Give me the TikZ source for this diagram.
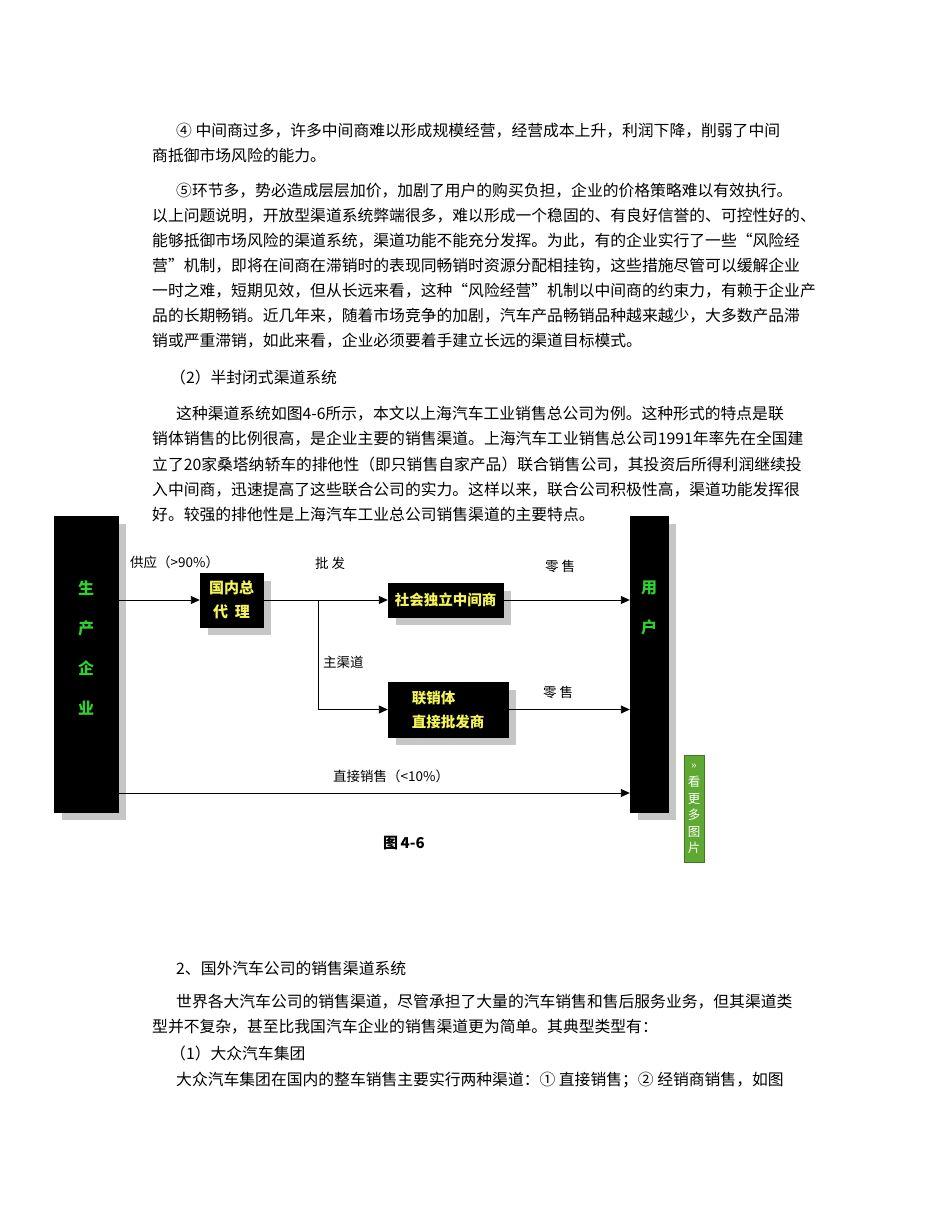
\documentclass[tikz,border=0pt]{standalone}
\usepackage{fontspec}
\setmainfont{Liberation Serif}
\newfontfamily\cjk{Noto Sans CJK SC}
\usetikzlibrary{arrows.meta}
\definecolor{yel}{HTML}{F4F45A}
\definecolor{grn}{HTML}{2FD02F}
\definecolor{badge}{HTML}{5FA832}
\begin{document}
\begin{tikzpicture}[x=1pt,y=-1pt,
 txt/.style={anchor=west,inner sep=0pt,font=\cjk\fontsize{15.8}{17}\selectfont},
 lab/.style={inner sep=0pt,font=\cjk\fontsize{13.5}{15}\selectfont},
 blk/.style={fill=black,draw=black},
 shd/.style={fill=gray!45},
 ar/.style={-{Triangle[length=9pt,width=8pt]},line width=0.9pt}]
\useasboundingbox (0,0) rectangle (950,1230);
\node[txt] (l1) at (176,131) {④ 中间商过多，许多中间商难以形成规模经营，经营成本上升，利润下降，削弱了中间};
\node[txt] (l2) at (152,155) {商抵御市场风险的能力。};
\node[txt] (l3) at (176,191) {⑤环节多，势必造成层层加价，加剧了用户的购买负担，企业的价格策略难以有效执行。};
\node[txt] (l4) at (152,216) {以上问题说明，开放型渠道系统弊端很多，难以形成一个稳固的、有良好信誉的、可控性好的、};
\node[txt] (l5) at (152,241) {能够抵御市场风险的渠道系统，渠道功能不能充分发挥。为此，有的企业实行了一些“风险经};
\node[txt] (l6) at (152,266) {营”机制，即将在间商在滞销时的表现同畅销时资源分配相挂钩，这些措施尽管可以缓解企业};
\node[txt] (l7) at (152,291) {一时之难，短期见效，但从长远来看，这种“风险经营”机制以中间商的约束力，有赖于企业产};
\node[txt] (l8) at (152,316) {品的长期畅销。近几年来，随着市场竞争的加剧，汽车产品畅销品种越来越少，大多数产品滞};
\node[txt] (l9) at (152,341) {销或严重滞销，如此来看，企业必须要着手建立长远的渠道目标模式。};
\node[txt] (l10) at (170,377) {（2）半封闭式渠道系统};
\node[txt] (l11) at (176,414) {这种渠道系统如图4-6所示，本文以上海汽车工业销售总公司为例。这种形式的特点是联};
\node[txt] (l12) at (152,439) {销体销售的比例很高，是企业主要的销售渠道。上海汽车工业销售总公司1991年率先在全国建};
\node[txt] (l13) at (152,465) {立了20家桑塔纳轿车的排他性（即只销售自家产品）联合销售公司，其投资后所得利润继续投};
\node[txt] (l14) at (152,490) {入中间商，迅速提高了这些联合公司的实力。这样以来，联合公司积极性高，渠道功能发挥很};
\node[txt] (l15) at (152,515) {好。较强的排他性是上海汽车工业总公司销售渠道的主要特点。};
\node[txt] (l16) at (176,968) {2、国外汽车公司的销售渠道系统};
\node[txt] (l17) at (176,1002) {世界各大汽车公司的销售渠道，尽管承担了大量的汽车销售和售后服务业务，但其渠道类};
\node[txt] (l18) at (152,1027) {型并不复杂，甚至比我国汽车企业的销售渠道更为简单。其典型类型有：};
\node[txt] (l19) at (170,1053) {（1）大众汽车集团};
\node[txt] (l20) at (176,1080) {大众汽车集团在国内的整车销售主要实行两种渠道：① 直接销售；② 经销商销售，如图};
% shadows
\fill[shd] (62,524) rectangle (126,820);
\fill[shd] (638,524) rectangle (676,820);
\fill[shd] (208,581) rectangle (271,635);
\fill[shd] (396,591) rectangle (511,625);
\fill[shd] (396,690) rectangle (516,745);
% boxes
\node[blk,minimum width=64,minimum height=296] (prod) at (86,664) {};
\node[font=\cjk\bfseries\fontsize{16}{40}\selectfont,text=grn,align=center] at (86,648) {生\\产\\企\\业};
\node[blk,minimum width=38,minimum height=296] (user) at (649,664) {};
\node[font=\cjk\bfseries\fontsize{16}{40}\selectfont,text=grn,align=center] at (649,608) {用\\户};
\node[blk,minimum width=63,minimum height=54,align=center,text=yel,font=\cjk\bfseries\fontsize{15}{24}\selectfont] (agent) at (231.5,600) {国内总\\代\ \ 理};
\node[blk,minimum width=115,minimum height=34,inner sep=0pt,text=yel,font=\cjk\bfseries\fontsize{14.5}{18}\selectfont] (mid) at (445.5,600) {社会独立中间商};
\node[blk,minimum width=120,minimum height=55,align=left,text=yel,font=\cjk\bfseries\fontsize{14.5}{24}\selectfont] (joint) at (448,709.5) {联销体\\直接批发商};
% arrows
\coordinate (br) at (318,600);
\draw[ar] (prod.east |- agent) -- (agent.west);
\draw[ar] (agent.east) -- (mid.west);
\draw[ar] (br) |- (joint.west);
\draw[ar] (mid.east) -- (user.west |- mid);
\draw[ar] (joint.east) -- (user.west |- joint);
\draw[ar] (prod.east |- 0,793) -- (user.west |- 0,793);
% labels
\node[lab,anchor=west] (s1) at (130,562) {供应（>90\%）};
\node[lab,anchor=west] (s2) at (315,563) {批\ 发};
\node[lab,anchor=west] (s3) at (545,566) {零\ 售};
\node[lab,anchor=west] (s4) at (323,662) {主渠道};
\node[lab,anchor=west] (s5) at (543,692) {零\ 售};
\node[lab,anchor=west] (s6) at (333,776) {直接销售（<10\%）};
\node[font=\cjk\bfseries\fontsize{15}{18}\selectfont] (fig) at (404,843) {图\,4-6};
% badge
\node[fill=badge,draw=badge!70!black,minimum width=20,minimum height=107,inner sep=0pt] (bd) at (694,808.5) {};
\node[text=white,font=\cjk\fontsize{12.5}{16.5}\selectfont,align=center,inner sep=0pt] at (694,815) {看\\更\\多\\图\\片};
\node[text=white,font=\fontsize{11}{12}\selectfont,inner sep=0pt] at (694,766) {»};
\end{tikzpicture}
\end{document}
